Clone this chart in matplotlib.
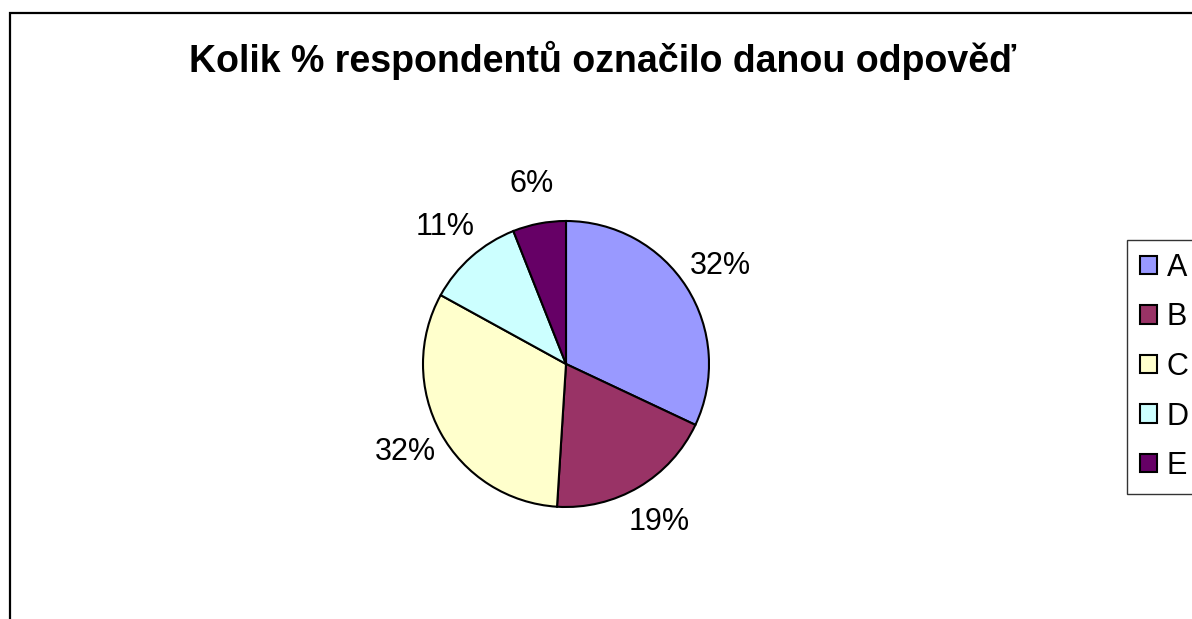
import matplotlib
matplotlib.use('Agg')
import matplotlib.pyplot as plt
from matplotlib.patches import Rectangle

# Data
categories = ['A', 'B', 'C', 'D', 'E']
shares = [32, 19, 32, 11, 6]
colors = ['#9999FF', '#993366', '#FFFFCC', '#CCFFFF', '#660066']
title = 'Kolik % respondentů označilo danou odpověď'

plt.rcParams['font.family'] = ['Liberation Sans', 'DejaVu Sans']

W, H = 1192, 619
fig = plt.figure(figsize=(W / 100, H / 100), dpi=100)
fig.patch.set_facecolor('white')

# chart area border (cut off at right and bottom)
fig.patches.append(Rectangle((10 / W, -0.1), 1.2, 1 - 13 / H + 0.1,
                             transform=fig.transFigure, fill=False,
                             edgecolor='black', linewidth=1.6))

fig.text(603 / W, 1 - 72 / H, title, ha='center', va='baseline',
         fontsize=27, fontweight='bold')

# pie axes: center (566, 364) px, radius 143 px
r = 143
lim = 1.1
size = 2 * r * lim
cx, cy = 566, H - 364
ax = fig.add_axes([(cx - size / 2) / W, (cy - size / 2) / H, size / W, size / H])
wedges, texts, autotexts = ax.pie(
    shares, colors=colors, startangle=90, counterclock=False,
    autopct='%1.0f%%', pctdistance=1.28,
    wedgeprops=dict(edgecolor='black', linewidth=1.5),
    textprops=dict(fontsize=22))
ax.set_xlim(-lim, lim)
ax.set_ylim(-lim, lim)
ax.set_aspect('equal')
ax.axis('off')

leg = fig.legend(wedges, categories, loc='upper left',
                 bbox_to_anchor=(1127 / W, 1 - 240 / H),
                 fontsize=22, frameon=True, fancybox=False,
                 handlelength=0.55, handleheight=0.55, handletextpad=0.33,
                 labelspacing=0.64, borderpad=0.42, borderaxespad=0)
leg.get_frame().set_edgecolor('black')
leg.get_frame().set_linewidth(1.0)

fig.savefig('out.png', dpi=100)
